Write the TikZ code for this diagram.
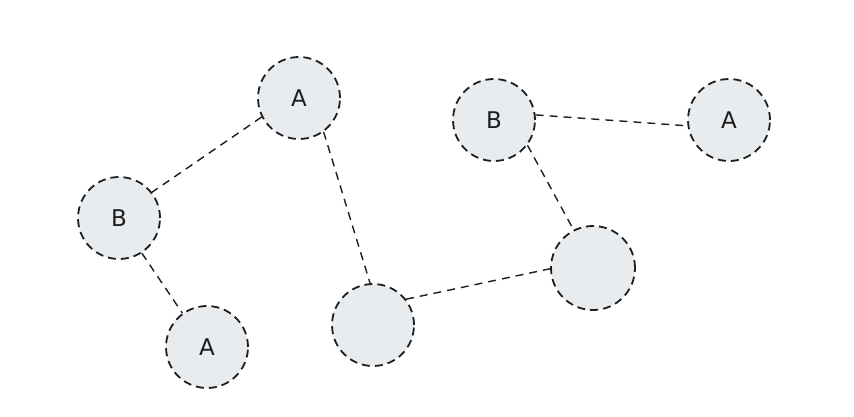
\documentclass[tikz,border=0pt]{standalone}
\usepackage{fontspec}
\setmainfont{DejaVu Sans}
\definecolor{fillc}{HTML}{E9ECEF}
\definecolor{linec}{HTML}{1E1E1E}
\begin{document}
\begin{tikzpicture}[x=1pt,y=-1pt,
  vnode/.style={circle,draw=linec,fill=fillc,line width=1.8pt,dash pattern=on 8pt off 5pt,minimum size=82pt,inner sep=0pt,font=\fontsize{23}{26}\selectfont,text=linec},
  edge/.style={draw=linec,line width=1.4pt,dash pattern=on 8pt off 6pt}]
\useasboundingbox[fill=white] (0,0) rectangle (854,416);
\node[vnode] (a1) at (299,98) {A};
\node[vnode] (b1) at (119,218) {B};
\node[vnode] (a2) at (207,347) {A};
\node[vnode] (b2) at (494,120) {B};
\node[vnode] (a3) at (729,120) {A};
\node[vnode] (e1) at (373,325) {};
\node[vnode,minimum size=84pt] (e2) at (593,268) {};
\draw[edge] (a1.207) -- (b1.38);
\draw[edge] (b1.-57) -- (a2.126);
\draw[edge] (a1.-54) -- (e1.94);
\draw[edge] (e1.38) -- (e2.181);
\draw[edge] (b2.-37) -- (e2.117);
\draw[edge] (b2.7) -- (a3.188);
\end{tikzpicture}
\end{document}
